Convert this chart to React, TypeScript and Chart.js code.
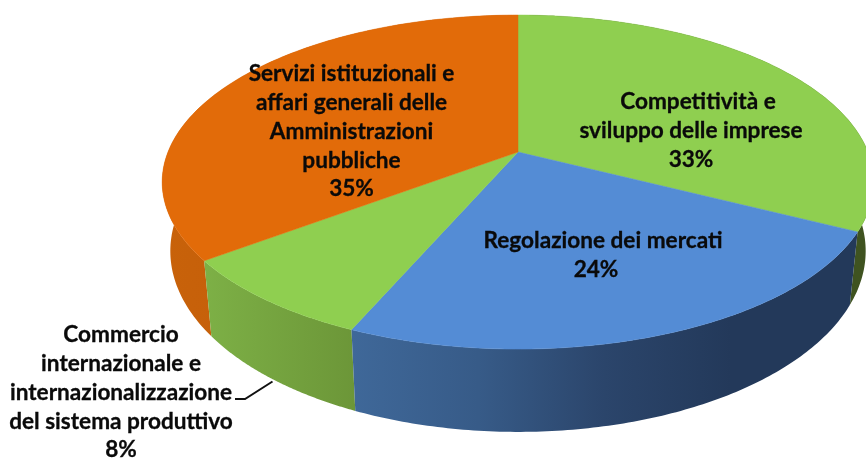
import React, { useEffect, useRef } from "react";
import { Chart, registerables } from "chart.js";

Chart.register(...registerables);

const categories = [
  "Competitività e sviluppo delle imprese",
  "Regolazione dei mercati",
  "Commercio internazionale e internazionalizzazione del sistema produttivo",
  "Servizi istituzionali e affari generali delle Amministrazioni pubbliche",
];
const shares = [32.5, 24, 8.25, 35.25];
const faceColors = ["#8FCF50", "#548CD5", "#8FCF50", "#E26B09"];
const wallStops: string[][] = [
  ["#3F5320", "#3F5320"],
  ["#3F6899", "#375B88", "#2B456B", "#23395A", "#23395A"],
  ["#7DB046", "#6C9638"],
  ["#C8620A", "#C25C0A", "#C55E0A"],
];
const wallOrder = [0, 3, 2, 1];

type Label = { lines: string[]; x: number; y: number };
const labels: Label[] = [
  { lines: ["Competitività e"], x: 698, y: 102 },
  { lines: ["sviluppo delle imprese", "33%"], x: 691, y: 131 },
  { lines: ["Regolazione dei mercati"], x: 603, y: 241 },
  { lines: ["24%"], x: 596, y: 270 },
  { lines: ["Commercio", "internazionale e", "internazionalizzazione", "del sistema produttivo", "8%"], x: 121, y: 335 },
  { lines: ["Servizi istituzionali e", "affari generali delle", "Amministrazioni", "pubbliche", "35%"], x: 351.5, y: 74 },
];
const leader = [[235, 399], [245, 399], [272.5, 381.5]];

const K = 0.18;
const top = { cx: 518, cy: 152, dx: 350, dy: 161.6 };
const bottom = { cx: 518, cy: 218.5, dx: 342, dy: 175 };
const project = (r: typeof top, a: number) => {
  const den = 1 - K * Math.sin(a);
  return [r.cx + (r.dx * Math.cos(a)) / den, r.cy + (r.dy * Math.sin(a)) / den];
};

const pie3d = {
  id: "pie3d",
  beforeDatasetsDraw(chart: any) {
    const ctx: CanvasRenderingContext2D = chart.ctx;
    const arcs = chart.getDatasetMeta(0).data;
    const STEPS = 120;
    const samples = (el: any) => {
      const { startAngle, endAngle } = el.getProps(["startAngle", "endAngle"], true);
      const out: number[] = [];
      for (let i = 0; i <= STEPS; i++) out.push(startAngle + ((endAngle - startAngle) * i) / STEPS);
      return out;
    };
    ctx.save();
    wallOrder.forEach((idx) => {
      const as = samples(arcs[idx]);
      const upper = as.map((a) => project(top, a));
      const lower = as.map((a) => project(bottom, a)).reverse();
      const xs = upper.concat(lower).map((p) => p[0]);
      const g = ctx.createLinearGradient(Math.min(...xs), 0, Math.max(...xs), 0);
      const stops = wallStops[idx];
      stops.forEach((c, i) => g.addColorStop(i / (stops.length - 1), c));
      ctx.beginPath();
      upper.concat(lower).forEach((p, i) => (i ? ctx.lineTo(p[0], p[1]) : ctx.moveTo(p[0], p[1])));
      ctx.closePath();
      ctx.fillStyle = g;
      ctx.fill();
    });
    arcs.forEach((el: any, idx: number) => {
      ctx.beginPath();
      ctx.moveTo(top.cx, top.cy);
      samples(el).forEach((a) => {
        const p = project(top, a);
        ctx.lineTo(p[0], p[1]);
      });
      ctx.closePath();
      ctx.fillStyle = faceColors[idx];
      ctx.strokeStyle = faceColors[idx];
      ctx.lineWidth = 0.5;
      ctx.fill();
      ctx.stroke();
    });
    ctx.restore();
    return false;
  },
  afterDraw(chart: any) {
    const ctx: CanvasRenderingContext2D = chart.ctx;
    ctx.save();
    ctx.strokeStyle = "#111111";
    ctx.lineWidth = 2;
    ctx.beginPath();
    leader.forEach((p, i) => (i ? ctx.lineTo(p[0], p[1]) : ctx.moveTo(p[0], p[1])));
    ctx.stroke();
    ctx.fillStyle = "#0A0A0A";
    ctx.strokeStyle = "#0A0A0A";
    ctx.lineWidth = 0.3;
    ctx.font = "700 22.6px Lato";
    ctx.textAlign = "center";
    ctx.textBaseline = "middle";
    labels.forEach((l) => {
      l.lines.forEach((t, i) => {
        ctx.fillText(t, l.x, l.y + i * 28.8);
        ctx.strokeText(t, l.x, l.y + i * 28.8);
      });
    });
    ctx.restore();
  },
};

export default function App() {
  const ref = useRef<HTMLCanvasElement>(null);
  useEffect(() => {
    const chart = new Chart(ref.current!, {
      type: "pie",
      data: {
        labels: categories,
        datasets: [{ data: shares, backgroundColor: faceColors, borderWidth: 0 }],
      },
      options: {
        animation: false,
        responsive: false,
        plugins: { legend: { display: false }, tooltip: { enabled: false } },
      },
      plugins: [pie3d],
    });
    return () => chart.destroy();
  }, []);
  return (
    <canvas
      ref={ref}
      width={866}
      height={458}
      style={{ position: "fixed", left: 0, top: 0, width: 866, height: 458, background: "#fff" }}
    />
  );
}
